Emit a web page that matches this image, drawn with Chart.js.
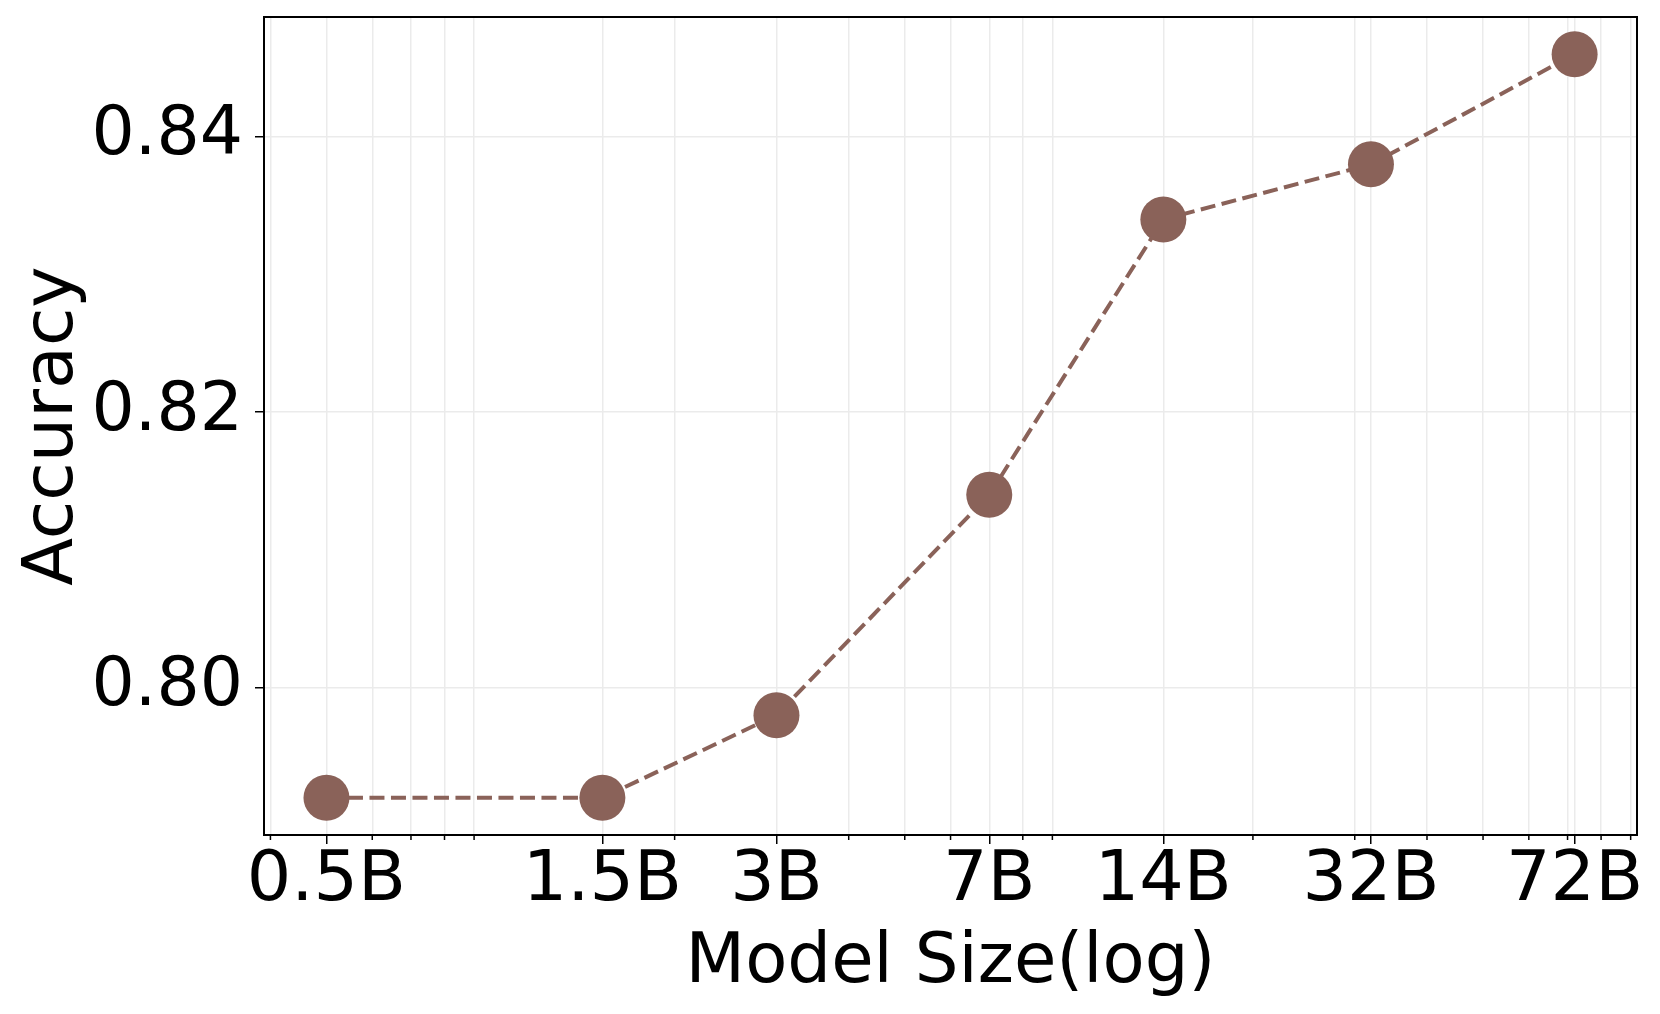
<!DOCTYPE html>
<html>
<head>
<meta charset="utf-8">
<script src="https://cdn.jsdelivr.net/npm/chart.js@4.4.1/dist/chart.umd.min.js"></script>
<style>
    html, body { margin: 0; padding: 0; background: #fff; }
    #wrap { width: 1660px; height: 1014px; }
</style>
</head>
<body>
<div id="wrap"><canvas id="accChart" width="1660" height="1014"></canvas></div>
<script>
// model sizes (billions) and accuracy
let modelSizes = [0.5, 1.5, 3, 7, 14, 32, 72];
let sizeLabels = ['0.5B', '1.5B', '3B', '7B', '14B', '32B', '72B'];
let accuracy = [0.792, 0.792, 0.798, 0.814, 0.834, 0.838, 0.846];
let yTicks = [0.80, 0.82, 0.84];
// minor log ticks (2..9 per decade) inside the visible range
let minorTicks = [0.4, 0.6, 0.7, 0.8, 0.9, 2, 4, 5, 6, 8, 9, 20, 30, 40, 50, 60, 70, 80, 90];

let brown = '#8a6259';
let gridColor = '#ebebeb';

Chart.defaults.font.family = "'DejaVu Sans', sans-serif";
Chart.defaults.color = '#000';

function isMajor(v) {
    return modelSizes.indexOf(v) !== -1;
}

// draws minor tick marks (shorter) and the box round the plot area
let framePlugin = {
    id: 'frame',
    afterDraw(chart) {
        let ctx = chart.ctx;
        let area = chart.chartArea;
        let xScale = chart.scales.x;
        ctx.save();
        ctx.strokeStyle = '#000';
        ctx.lineWidth = 1.5;
        minorTicks.forEach(function (v) {
            let px = xScale.getPixelForValue(v);
            ctx.beginPath();
            ctx.moveTo(px, area.bottom);
            ctx.lineTo(px, area.bottom + 5);
            ctx.stroke();
        });
        ctx.lineWidth = 2;
        ctx.strokeRect(area.left, area.top, area.right - area.left, area.bottom - area.top);
        ctx.restore();
    }
};

let canvas = document.getElementById('accChart');
new Chart(canvas, {
    type: 'line',
    data: {
        datasets: [{
            label: 'Accuracy',
            data: modelSizes.map((s, i) => ({x: s, y: accuracy[i]})),
            borderColor: brown,
            backgroundColor: brown,
            borderWidth: 4,
            borderDash: [15, 6.5],
            lineTension: 0,
            fill: false,
            pointRadius: 23,
            pointBorderWidth: 0,
            pointBackgroundColor: brown,
            pointHoverRadius: 23
        }]
    },
    options: {
        responsive: false,
        animation: false,
        events: [],
        layout: {autoPadding: false, padding: {top: 17, right: 23, left: 0, bottom: 0}},
        plugins: {legend: {display: false}, tooltip: {enabled: false}},
        scales: {
            x: {
                type: 'logarithmic',
                position: 'bottom',
                min: 0.3899,
                max: 92.3,
                bounds: 'data',
                afterBuildTicks: function (scale) {
                    let all = modelSizes.concat(minorTicks).sort((a, b) => a - b);
                    scale.ticks = all.map(v => ({value: v, major: isMajor(v)}));
                },
                afterFit: function (scale) {
                    scale.height = 179;
                    scale.paddingLeft = 0;
                    scale.paddingRight = 0;
                },
                ticks: {
                    autoSkip: false,
                    maxRotation: 0,
                    minRotation: 0,
                    padding: 3,
                    font: {size: 70, lineHeight: 1},
                    callback: function (value) {
                        let i = modelSizes.indexOf(value);
                        return i === -1 ? '' : sizeLabels[i];
                    }
                },
                grid: {
                    color: gridColor,
                    lineWidth: 1.5,
                    tickLength: 9,
                    tickWidth: 1.5,
                    tickColor: ctx => (ctx.tick && isMajor(ctx.tick.value)) ? '#000' : 'rgba(0,0,0,0)'
                },
                border: {display: false},
                title: {
                    display: true,
                    text: 'Model Size(log)',
                    font: {size: 69, lineHeight: 1.2},
                    padding: {top: 0, bottom: 9}
                }
            },
            y: {
                type: 'linear',
                min: 0.7893,
                max: 0.8487,
                bounds: 'data',
                afterBuildTicks: function (scale) {
                    scale.ticks = yTicks.map(v => ({value: v}));
                },
                afterFit: function (scale) {
                    scale.width = 264;
                    scale.paddingTop = 0;
                    scale.paddingBottom = 0;
                },
                ticks: {
                    padding: 12,
                    font: {size: 68, lineHeight: 1},
                    callback: v => v.toFixed(2)
                },
                grid: {
                    color: gridColor,
                    lineWidth: 1.5,
                    tickLength: 9,
                    tickWidth: 1.5,
                    tickColor: '#000'
                },
                border: {display: false},
                title: {
                    display: true,
                    text: 'Accuracy',
                    font: {size: 70, lineHeight: 1.2},
                    padding: {top: 12, bottom: 0}
                }
            }
        }
    },
    plugins: [framePlugin]
});
</script>
</body>
</html>
